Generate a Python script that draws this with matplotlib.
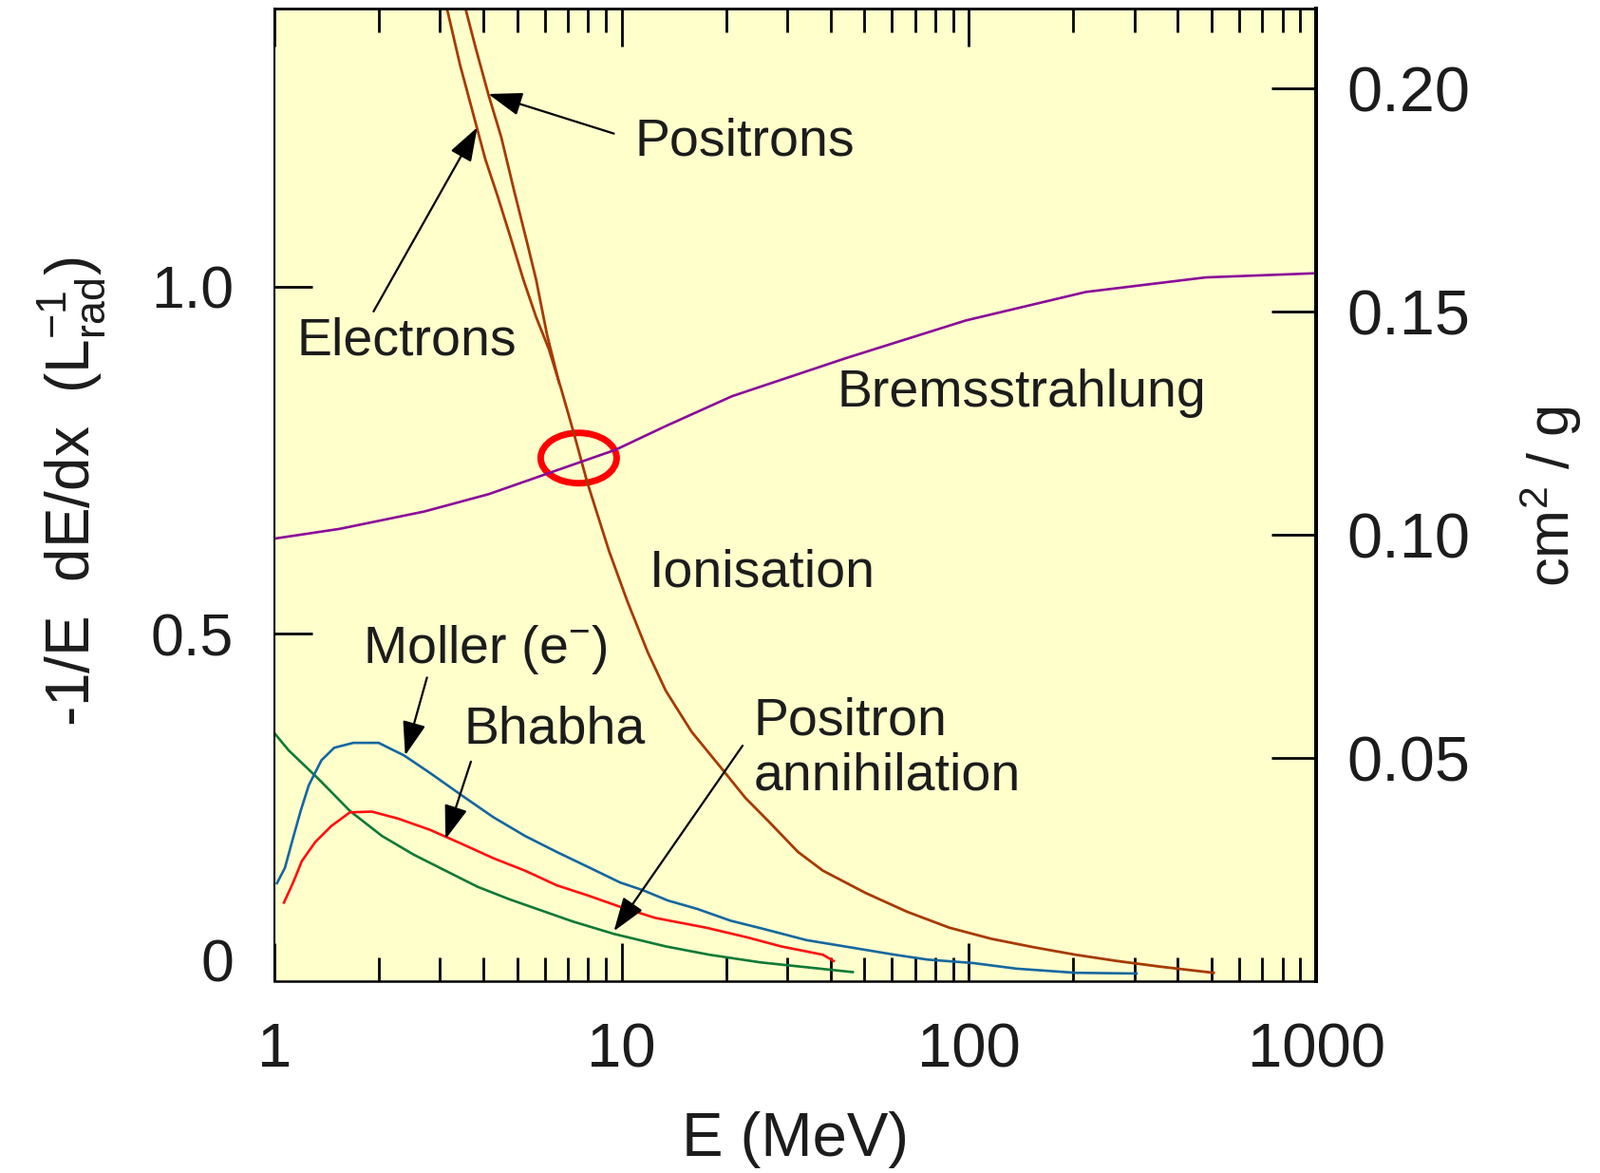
import matplotlib
matplotlib.use("Agg")
import matplotlib.pyplot as plt
from matplotlib.patches import Ellipse
from matplotlib.transforms import ScaledTranslation
from matplotlib.ticker import FixedLocator, LogLocator, NullFormatter

plt.rcParams['font.family'] = ['Liberation Sans', 'DejaVu Sans']
plt.rcParams['mathtext.fontset'] = 'custom'
plt.rcParams['mathtext.rm'] = 'Liberation Sans'
plt.rcParams['mathtext.it'] = 'Liberation Sans:italic'
plt.rcParams['mathtext.bf'] = 'Liberation Sans:bold'

# ---------------- data (left axis units: 1/L_rad) ----------------
E_ion_elec = [3.14, 3.42, 3.72, 4.05, 4.40, 4.79, 5.21, 5.67, 6.17, 6.71, 7.30,
              7.95, 9.2, 10.4, 11.9, 13.4, 15.9, 19.2, 22.7, 26.5, 32.2, 38.0,
              50.4, 66.3, 87.8, 116, 153, 203, 267, 354, 507]
loss_ion_elec = [1.40, 1.320, 1.252, 1.183, 1.129, 1.070, 1.010, 0.956, 0.910,
                 0.851, 0.787, 0.719, 0.619, 0.546, 0.473, 0.418, 0.359, 0.309,
                 0.264, 0.230, 0.186, 0.159, 0.127, 0.100, 0.077, 0.061, 0.049,
                 0.038, 0.029, 0.021, 0.012]

E_ion_pos = [3.55, 3.80, 4.14, 4.50, 4.90, 5.33, 5.67, 6.1, 6.6]
loss_ion_pos = [1.40, 1.343, 1.275, 1.215, 1.138, 1.065, 1.010, 0.93, 0.862]

E_brems = [1.0, 1.54, 2.70, 4.14, 6.31, 9.62, 13.4, 20.8, 44.4, 98, 217, 481, 1000]
loss_brems = [0.637, 0.651, 0.676, 0.701, 0.733, 0.765, 0.799, 0.842, 0.897,
              0.951, 0.992, 1.013, 1.019]

E_moller = [1.017, 1.072, 1.13, 1.19, 1.256, 1.366, 1.487, 1.688, 1.996, 2.36,
            2.80, 3.45, 4.27, 5.27, 6.5, 8.03, 9.9, 11.5, 13.6, 16.5, 20.6,
            25.7, 34.1, 45.1, 61.2, 76.0, 103, 137, 203, 304]
loss_moller = [0.141, 0.163, 0.205, 0.245, 0.282, 0.318, 0.336, 0.343, 0.343,
               0.325, 0.300, 0.268, 0.236, 0.209, 0.186, 0.164, 0.142, 0.131,
               0.116, 0.104, 0.087, 0.075, 0.059, 0.049, 0.038, 0.031, 0.026,
               0.018, 0.012, 0.011]

E_bhabha = [1.065, 1.13, 1.20, 1.31, 1.456, 1.65, 1.91, 2.27, 2.80, 3.45, 4.27,
            5.27, 6.5, 8.03, 9.9, 12.5, 17.5, 23.0, 28.8, 38.0, 40.8]
loss_bhabha = [0.113, 0.141, 0.173, 0.200, 0.223, 0.243, 0.244, 0.234, 0.218,
               0.198, 0.177, 0.159, 0.138, 0.123, 0.107, 0.091, 0.077, 0.063,
               0.050, 0.038, 0.029]

E_annih = [1.0, 1.10, 1.20, 1.34, 1.487, 1.65, 2.04, 2.52, 3.11, 3.84, 4.74,
           5.85, 7.22, 9.5, 13.4, 17.9, 25.1, 34.1, 46.3]
loss_annih = [0.357, 0.332, 0.314, 0.291, 0.268, 0.245, 0.209, 0.182, 0.159,
              0.136, 0.118, 0.102, 0.086, 0.068, 0.050, 0.038, 0.027, 0.020, 0.013]

x_ticks = [1, 10, 100, 1000]
x_ticklabels = ['1', '10', '100', '1000']
y_ticks = [0.5, 1.0]
y_ticklabels = ['0.5', '1.0']
y2_ticks = [0.05, 0.10, 0.15, 0.20]
y2_ticklabels = ['0.05', '0.10', '0.15', '0.20']
conv = 0.1557   # 1/L_rad -> cm^2/g

cross_E, cross_loss = 7.52, 0.753   # highlighted crossing point

# ---------------- figure ----------------
W, H = 1685, 1235
fig = plt.figure(figsize=(W / 100, H / 100), dpi=100)
ax = fig.add_axes([289 / W, 1 - 1033 / H, (1386 - 289) / W, (1033 - 9) / H])
ax.set_facecolor('#FFFFCC')
ax.set_xscale('log')
ax.set_xlim(1, 1000)
ax.set_ylim(0, 1.40)

txt = '#1c1c1c'
lw = 1.9
ax.plot(E_annih, loss_annih, color='#0E7A35', lw=lw)
ax.plot(E_bhabha, loss_bhabha, color='#FF1010', lw=lw)
ax.plot(E_moller, loss_moller, color='#1467A0', lw=lw)
ax.plot(E_ion_elec, loss_ion_elec, color='#A63A00', lw=2.0)
ax.plot(E_ion_pos, loss_ion_pos, color='#A63A00', lw=2.0)
ax.plot(E_brems, loss_brems, color='#8B0A9A', lw=lw)

# ticks
ax.xaxis.set_major_locator(FixedLocator(x_ticks))
ax.set_xticklabels(x_ticklabels)
ax.xaxis.set_minor_locator(LogLocator(base=10, subs=range(2, 10)))
ax.xaxis.set_minor_formatter(NullFormatter())
ax.tick_params(axis='x', which='major', direction='in', length=29, width=2,
               top=True, labelsize=47, pad=31, colors='black', labelcolor=txt)
ax.tick_params(axis='x', which='minor', direction='in', length=18, width=2,
               top=True)
ax.set_yticks(y_ticks)
ax.set_yticklabels(y_ticklabels)
ax.tick_params(axis='y', direction='in', length=29, width=2, labelsize=45,
               pad=31, right=False, labelcolor=txt)
ax.annotate('0', xy=(0, 0), xycoords=('axes fraction', 'data'),
            xytext=(-31, 11.5), textcoords='offset points', ha='right',
            va='center', fontsize=45, color=txt)

sec = ax.secondary_yaxis('right', functions=(lambda v: v * conv, lambda c: c / conv))
sec.set_yticks(y2_ticks)
sec.set_yticklabels(y2_ticklabels)
sec.tick_params(axis='y', direction='in', length=34, width=2, labelsize=48,
                pad=23, labelcolor=txt)
sec.minorticks_off()
sec.spines['right'].set_linewidth(2.8)

ax.spines['left'].set_linewidth(1.5)
ax.spines['bottom'].set_linewidth(1.8)
ax.spines['top'].set_linewidth(2.0)
ax.spines['right'].set_linewidth(2.8)

# axis labels
fig.text(75 / W, 1 - 518 / H, r'-1/E  dE/dx  ($\mathregular{L_{rad}^{-1}}$)',
         rotation=90, ha='center', va='center', fontsize=46, color=txt)
fig.text(1633 / W, 1 - 523 / H, r'cm$\mathregular{^{2}}$ / g', rotation=90,
         ha='center', va='center', fontsize=44, color=txt)
fig.text(837 / W, 1 - 1200 / H, 'E (MeV)', ha='center', va='center',
         fontsize=47, color=txt)

# curve labels
fs = 40
labels = [
    ('Positrons', 10.93, 1.189),
    ('Electrons', 1.16, 0.902),
    ('Bremsstrahlung', 41.8, 0.827),
    ('Ionisation', 12.0, 0.568),
    (r'Moller (e$\mathregular{^{-}}$)', 1.80, 0.458),
    ('Bhabha', 3.52, 0.343),
    ('Positron', 24.0, 0.355),
    ('annihilation', 24.0, 0.275),
]
for s, x, y in labels:
    ax.text(x, y, s, ha='left', va='baseline', fontsize=fs, color=txt)

arrows = [
    ((4.13, 1.277), (9.5, 1.22)),
    ((3.84, 1.229), (1.93, 0.964)),
    ((2.38, 0.325), (2.75, 0.437)),
    ((3.11, 0.2045), (3.68, 0.316)),
    ((9.5, 0.072), (22.3, 0.339)),
]
for head, tail in arrows:
    ax.annotate('', xy=head, xytext=tail,
                arrowprops=dict(arrowstyle='-|>,head_length=1.1,head_width=0.38',
                                mutation_scale=20, lw=1.6, color='black',
                                shrinkA=0, shrinkB=0))

trans = fig.dpi_scale_trans + ScaledTranslation(cross_E, cross_loss, ax.transData)
ax.add_patch(Ellipse((0, 0), width=0.80, height=0.53, transform=trans,
                     fill=False, edgecolor='#FF0000', lw=5))

fig.savefig('out.png', dpi=100)
